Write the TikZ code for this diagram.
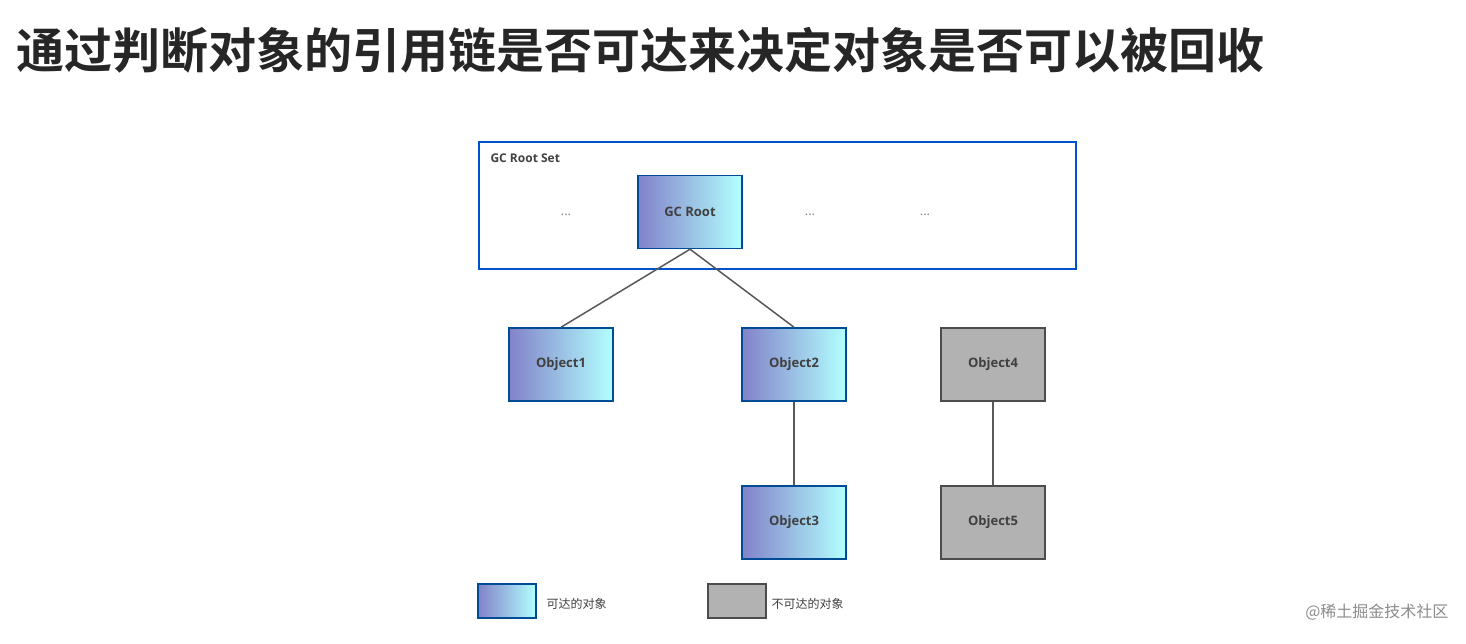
\documentclass[tikz,border=0pt]{standalone}
\usepackage{fontspec}
\setmainfont{Open Sans}
\newfontfamily\cjk{Noto Sans CJK SC}
\newfontfamily\cjkb{Noto Sans CJK SC Bold}
\begin{document}
\begin{tikzpicture}[x=1pt,y=-1pt,
  obj/.style={draw=blue!40!black!70!cyan, line width=1.5pt, minimum width=104pt, minimum height=73pt, left color=blue!40!gray!70!white, right color=cyan!30!white, font=\bfseries\fontsize{13}{13}\selectfont, text=black!75, inner sep=0pt},
  gobj/.style={draw=black!70, line width=1.5pt, minimum width=104pt, minimum height=73pt, fill=black!30, font=\bfseries\fontsize{13}{13}\selectfont, text=black!75, inner sep=0pt},
  link/.style={draw=black!65, line width=1.5pt},
  dots/.style={text=black!50, font=\fontsize{13}{13}\selectfont}]
\useasboundingbox (0,0) rectangle (1466,643);
\fill[white] (0,0) rectangle (1466,643);
\node[anchor=west, inner sep=0pt, font=\cjkb\fontsize{48}{48}\selectfont, text=black!85] (title) at (16,50) {通过判断对象的引用链是否可达来决定对象是否可以被回收};
\node[draw=blue!60!cyan!80!black, line width=1.5pt, minimum width=597pt, minimum height=127pt, anchor=north west] (set) at (478,141) {};
\node[anchor=west, font=\bfseries\fontsize{12}{12}\selectfont, text=black!75] (setl) at (487,158) {GC Root Set};
\node[obj] (root) at (690,212) {GC Root};
\node[dots] (d1) at (566,215) {...};
\node[dots] (d2) at (810,215) {...};
\node[dots] (d3) at (925,215) {...};
\node[obj] (o1) at (561,364.5) {Object1};
\node[obj] (o2) at (794,364.5) {Object2};
\node[gobj] (o4) at (993,364.5) {Object4};
\node[obj] (o3) at (794,522.5) {Object3};
\node[gobj] (o5) at (993,522.5) {Object5};
\draw[link] (root.south) -- (o1.north);
\draw[link] (root.south) -- (o2.north);
\draw[link] (o2) -- (o3);
\draw[link] (o4) -- (o5);
\node[obj, minimum width=58pt, minimum height=34pt] (lb) at (507,601) {};
\node[gobj, minimum width=58pt, minimum height=34pt] (lg) at (737,601) {};
\node[anchor=west, font=\cjk\fontsize{12}{12}\selectfont, text=black!75] (lbt) at (543,604) {可达的对象};
\node[anchor=west, font=\cjk\fontsize{12}{12}\selectfont, text=black!75] (lgt) at (768,604) {不可达的对象};
\node[anchor=east, font=\cjk\fontsize{16}{16}\selectfont, text=black!45] (wm) at (1452,612) {@稀土掘金技术社区};
\end{tikzpicture}
\end{document}
